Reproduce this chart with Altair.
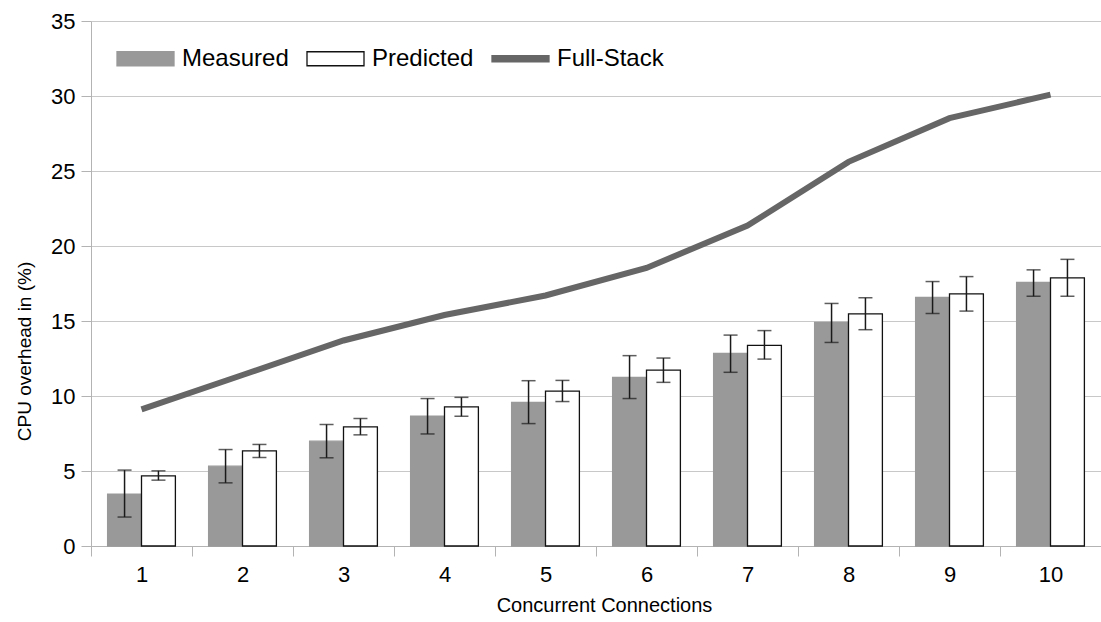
import altair as alt
import pandas as pd

# Concurrent connections on the x axis
conns = [1, 2, 3, 4, 5, 6, 7, 8, 9, 10]

# Measured CPU overhead (%) with error-bar bounds
measured = [3.46, 5.32, 6.99, 8.65, 9.58, 11.24, 12.84, 14.90, 16.57, 17.57]
measured_lo = [1.93, 4.21, 5.88, 7.47, 8.16, 9.83, 11.58, 13.57, 15.50, 16.65]
measured_hi = [5.06, 6.43, 8.10, 9.83, 11.02, 12.69, 14.06, 16.17, 17.63, 18.41]

# Predicted CPU overhead (%) with error-bar bounds
predicted = [4.68, 6.34, 7.94, 9.27, 10.33, 11.73, 13.37, 15.48, 16.81, 17.88]
predicted_lo = [4.39, 5.90, 7.41, 8.65, 9.63, 10.91, 12.46, 14.42, 15.66, 16.65]
predicted_hi = [5.01, 6.77, 8.50, 9.91, 11.04, 12.53, 14.36, 16.55, 17.96, 19.11]

# Full-stack overhead (%)
full_stack = [9.11, 11.40, 13.70, 15.40, 16.70, 18.54, 21.36, 25.61, 28.52, 30.09]

series_names = ["Measured", "Predicted", "Full-Stack"]

bars_df = pd.DataFrame(
    [{"conn": c, "series": "Measured", "value": v, "lo": lo, "hi": hi}
     for c, v, lo, hi in zip(conns, measured, measured_lo, measured_hi)]
    + [{"conn": c, "series": "Predicted", "value": v, "lo": lo, "hi": hi}
       for c, v, lo, hi in zip(conns, predicted, predicted_lo, predicted_hi)]
)
line_df = pd.DataFrame({"conn": conns, "series": "Full-Stack", "value": full_stack})

FONT = "Liberation Sans"

fill_scale = alt.Scale(domain=series_names, range=["#999999", "#ffffff", "#666666"])
stroke_scale = alt.Scale(domain=series_names, range=["#999999", "#111111", "#666666"])
shape_scale = alt.Scale(
    domain=series_names,
    range=[
        "M-1,-0.246H1V0.246H-1Z",
        "M-1,-0.246H1V0.246H-1Z",
        "M-1,-0.105H1V0.105H-1Z",
    ],
)

x_enc = alt.X(
    "conn:O",
    scale=alt.Scale(paddingInner=0, paddingOuter=0),
    axis=alt.Axis(
        title="Concurrent Connections",
        labelAngle=0,
        tickBand="extent",
        tickSize=10,
        labelPadding=8,
        labelFontSize=22,
        titleFontSize=20,
        titlePadding=10,
        titleX=513,
        grid=False,
    ),
)
y_axis = alt.Axis(
    title="CPU overhead in (%)",
    values=[0, 5, 10, 15, 20, 25, 30, 35],
    tickSize=10,
    labelPadding=6,
    labelFontSize=22,
    titleFontSize=19,
    titlePadding=16,
    titleY=330,
    grid=True,
)
y_scale = alt.Scale(domain=[0, 35], nice=False, zero=True)
offset_enc = alt.XOffset(
    "series:N",
    scale=alt.Scale(domain=["Measured", "Predicted"], paddingInner=0, paddingOuter=0.49),
)

bars = alt.Chart(bars_df).mark_bar(strokeWidth=1.3).encode(
    x=x_enc,
    xOffset=offset_enc,
    y=alt.Y("value:Q", scale=y_scale, axis=y_axis),
    fill=alt.Fill("series:N", scale=fill_scale, title=None),
    stroke=alt.Stroke("series:N", scale=stroke_scale, title=None),
)

err_rule = alt.Chart(bars_df).mark_rule(color="#1a1a1a", strokeWidth=1.5).encode(
    x=x_enc,
    xOffset=offset_enc,
    y=alt.Y("lo:Q", scale=y_scale, axis=y_axis),
    y2="hi:Q",
)
cap_lo = alt.Chart(bars_df).mark_tick(color="#1a1a1a", size=14, thickness=1.5).encode(
    x=x_enc,
    xOffset=offset_enc,
    y=alt.Y("lo:Q", scale=y_scale, axis=y_axis),
)
cap_hi = alt.Chart(bars_df).mark_tick(color="#1a1a1a", size=14, thickness=1.5).encode(
    x=x_enc,
    xOffset=offset_enc,
    y=alt.Y("hi:Q", scale=y_scale, axis=y_axis),
)

line = alt.Chart(line_df).mark_line(strokeWidth=6).encode(
    x=x_enc,
    y=alt.Y("value:Q", scale=y_scale, axis=y_axis),
    stroke=alt.Stroke("series:N", scale=stroke_scale, title=None),
)

# Invisible points that carry the shape channel for the combined legend
legend_pts = alt.Chart(line_df).mark_point(filled=True, opacity=0).encode(
    x=x_enc,
    y=alt.Y("value:Q", scale=y_scale, axis=y_axis),
    shape=alt.Shape("series:N", scale=shape_scale, title=None),
    fill=alt.Fill("series:N", scale=fill_scale, title=None),
    stroke=alt.Stroke("series:N", scale=stroke_scale, title=None),
)

chart = (
    alt.layer(bars, err_rule, cap_lo, cap_hi, line, legend_pts)
    .properties(
        width=1010,
        height=525,
        autosize=alt.AutoSizeParams(type="none"),
        padding={"left": 91, "top": 21, "right": 0, "bottom": 76},
    )
    .configure_view(stroke=None)
    .configure_axis(
        labelFont=FONT,
        titleFont=FONT,
        labelColor="#000000",
        titleColor="#000000",
        titleFontWeight="normal",
        domainColor="#b3b3b3",
        tickColor="#b3b3b3",
        gridColor="#c8c8c8",
        gridWidth=1,
        domainWidth=1,
        tickWidth=1,
    )
    .configure_legend(
        orient="none",
        legendX=25,
        legendY=8,
        direction="horizontal",
        labelFont=FONT,
        labelFontSize=24,
        labelColor="#000000",
        labelOffset=7,
        labelLimit=400,
        symbolSize=3249,
        symbolStrokeWidth=1.3,
        symbolOpacity=1,
        columnPadding=15,
        padding=0,
    )
)

chart.save("out.html", embed_options={"renderer": "svg", "actions": False})
